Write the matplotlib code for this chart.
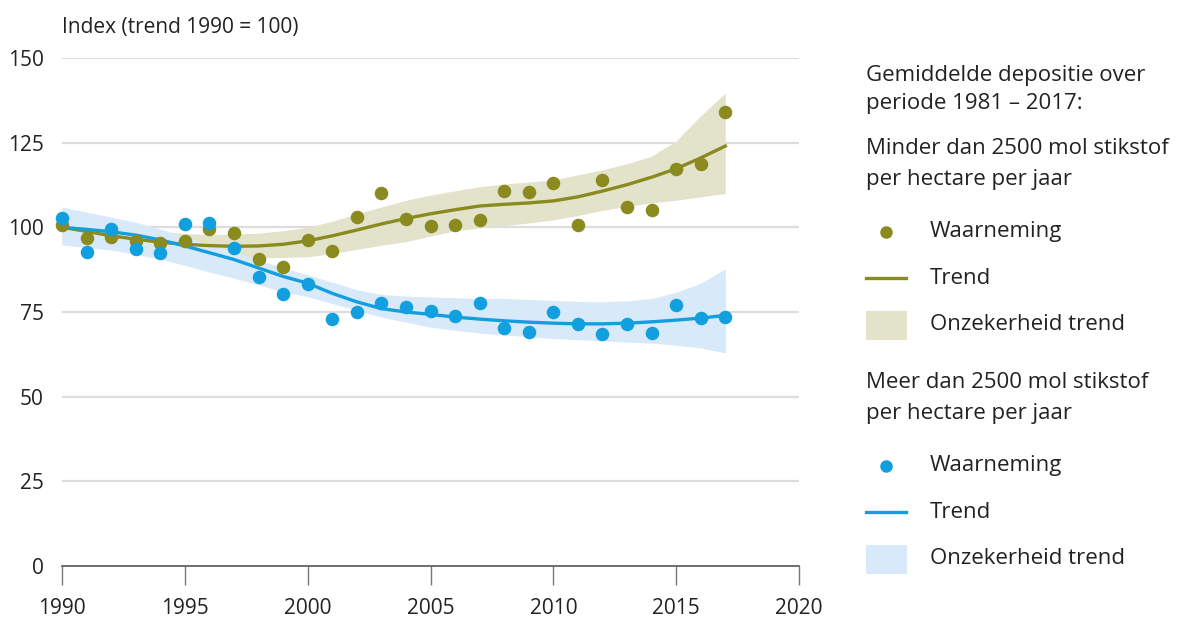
import numpy as np
import matplotlib.pyplot as plt
from matplotlib.lines import Line2D
from matplotlib.patches import Rectangle

plt.rcParams['font.family'] = ['Open Sans', 'DejaVu Sans']

years = list(range(1990, 2018))

# minder dan 2500 mol (olijfgroen)
low_obs = [100.7, 96.8, 97.0, 96.0, 95.3, 96.0, 99.5, 98.3, 90.6, 88.3, 96.2, 93.0, 103.0, 110.0,
           102.4, 100.4, 100.7, 102.2, 110.7, 110.5, 113.0, 100.7, 114.0, 106.0, 105.0, 117.2, 118.7, 134.0]
low_trend = [100.0, 98.8, 97.5, 96.5, 95.6, 95.0, 94.6, 94.4, 94.5, 95.0, 96.0, 97.5, 99.2, 101.0,
             102.6, 104.0, 105.2, 106.3, 106.8, 107.2, 107.8, 109.0, 110.7, 112.6, 114.8, 117.3, 120.5, 124.0]
low_lo = [95.5, 94.8, 94.0, 93.2, 92.5, 92.0, 91.5, 91.2, 91.0, 91.1, 91.3, 92.2, 93.5, 94.7,
          95.8, 97.4, 99.0, 99.8, 100.5, 101.3, 102.2, 103.5, 105.0, 106.2, 107.2, 108.0, 109.0, 110.0]
low_hi = [104.5, 102.7, 101.0, 99.8, 98.7, 98.2, 97.8, 98.0, 98.3, 99.0, 100.0, 101.8, 104.0, 106.0,
          108.0, 109.5, 110.8, 112.0, 112.8, 113.4, 114.0, 115.5, 117.0, 118.8, 121.0, 125.5, 133.0, 139.6]

# meer dan 2500 mol (blauw)
high_obs = [102.7, 92.7, 99.5, 93.6, 92.4, 101.0, 101.4, 93.9, 85.3, 80.3, 83.3, 72.9, 75.0, 77.6,
            76.5, 75.2, 73.8, 77.6, 70.4, 69.2, 75.0, 71.4, 68.5, 71.4, 68.9, 77.0, 73.2, 73.6]
high_trend = [100.0, 99.4, 98.7, 97.7, 96.3, 94.5, 92.5, 90.5, 88.0, 85.5, 83.5, 80.5, 78.0, 76.0,
              75.0, 74.3, 73.5, 72.9, 72.4, 72.0, 71.7, 71.5, 71.5, 71.7, 72.1, 72.6, 73.2, 74.0]
high_lo = [94.8, 94.0, 93.3, 92.0, 90.6, 88.8, 86.8, 85.0, 83.0, 81.0, 79.5, 77.5, 75.5, 73.5,
           72.0, 70.5, 69.6, 68.8, 68.2, 67.7, 67.2, 66.8, 66.5, 66.1, 65.8, 65.2, 64.4, 62.9]
high_hi = [106.0, 104.5, 103.0, 101.5, 99.5, 97.2, 95.0, 92.8, 90.4, 88.0, 86.0, 83.8, 81.6, 80.2,
           79.7, 79.4, 79.2, 79.0, 79.0, 78.7, 78.4, 78.1, 78.0, 78.3, 79.0, 80.8, 83.5, 87.7]

olive = '#8a8a1e'
olive_band = '#e3e3cc'
blue = '#129fdf'
blue_band = '#d8e9f9'
txt = '#222222'

fig = plt.figure(figsize=(11.92, 6.19), dpi=100)
ax = fig.add_axes([62 / 1192, 53 / 619, 737 / 1192, 508 / 619])

ax.fill_between(years, low_lo, low_hi, color=olive_band, lw=0, zorder=1)
ax.fill_between(years, high_lo, high_hi, color=blue_band, lw=0, zorder=2)
ax.plot(years, low_trend, color=olive, lw=2.4, zorder=3)
ax.plot(years, high_trend, color=blue, lw=2.4, zorder=3)
ax.scatter(years, low_obs, s=95, color=olive, lw=0, zorder=4, clip_on=False)
ax.scatter(years, high_obs, s=95, color=blue, lw=0, zorder=4, clip_on=False)

ax.set_xlim(1990, 2020)
ax.set_ylim(0, 150)
ax.set_xticks(range(1990, 2021, 5))
ax.set_yticks(range(0, 151, 25))
for y in range(25, 151, 25):
    ax.axhline(y, color='#dddddd', lw=1.6, zorder=0)
for s in ['top', 'right', 'left']:
    ax.spines[s].set_visible(False)
ax.spines['bottom'].set_color('#555555')
ax.spines['bottom'].set_linewidth(1.2)
ax.tick_params(axis='x', length=14, width=1.0, color='#777777', pad=9, labelsize=15, labelcolor=txt)
ax.tick_params(axis='y', length=0, pad=13, labelsize=15, labelcolor=txt)

fig.text(62 / 1192, 1 - 28 / 619, 'Index (trend 1990 = 100)', fontsize=15, color=txt, va='center')

# legenda
def fy(py):
    return 1 - py / 619

lx = 866 / 1192
fs = 16
fig.text(lx, fy(75), 'Gemiddelde depositie over', fontsize=fs, color=txt, va='center')
fig.text(lx, fy(104), 'periode 1981 – 2017:', fontsize=fs, color=txt, va='center')

groups = [(149, 'Minder dan 2500 mol stikstof', olive, olive_band),
          (383, 'Meer dan 2500 mol stikstof', blue, blue_band)]
for top, title, col, band in groups:
    fig.text(lx, fy(top), title, fontsize=fs, color=txt, va='center')
    fig.text(lx, fy(top + 31), 'per hectare per jaar', fontsize=fs, color=txt, va='center')
    tx = 930 / 1192
    fig.add_artist(Line2D([886 / 1192], [fy(top + 83)], marker='o', ms=8, color=col, lw=0))
    fig.text(tx, fy(top + 82), 'Waarneming', fontsize=fs, color=txt, va='center')
    fig.add_artist(Line2D([866 / 1192, 906 / 1192], [fy(top + 129)] * 2, color=col, lw=2.4))
    fig.text(tx, fy(top + 129), 'Trend', fontsize=fs, color=txt, va='center')
    fig.add_artist(Rectangle((866 / 1192, fy(top + 191)), 41 / 1192, 29 / 619,
                             color=band, lw=0, transform=fig.transFigure))
    fig.text(tx, fy(top + 175), 'Onzekerheid trend', fontsize=fs, color=txt, va='center')

fig.savefig('out.png', dpi=100)
